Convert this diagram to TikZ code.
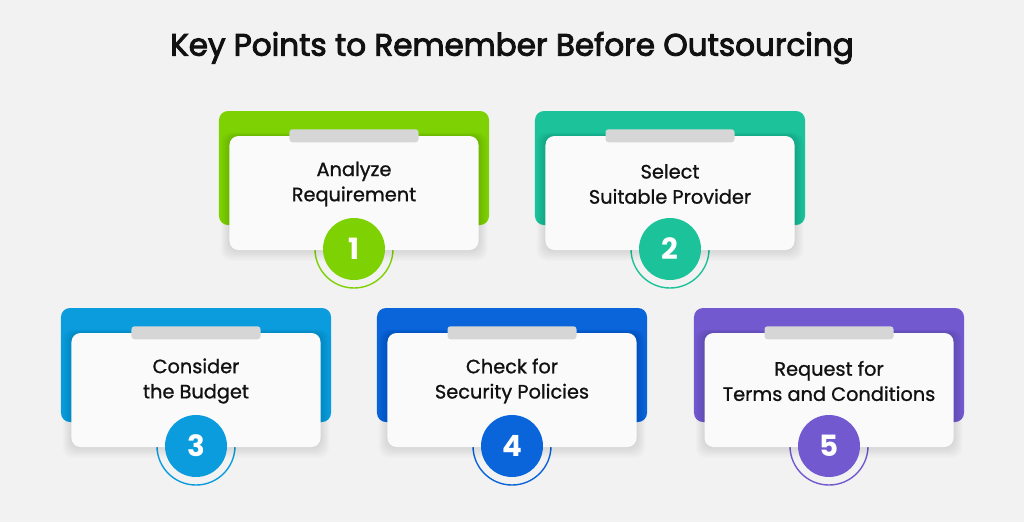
\documentclass[tikz,border=0pt]{standalone}
\usepackage{fontspec}
\setmainfont{Poppins}
\newfontfamily\titlefont[FakeBold=3]{Poppins}
\newfontfamily\cardfont[FakeBold=1]{Poppins}
\definecolor{bgcol}{HTML}{F2F2F2}
\definecolor{cardcol}{HTML}{FAFAFA}
\definecolor{tabcol}{HTML}{D6D6D6}
\definecolor{inkcol}{HTML}{111111}
\definecolor{greencol}{HTML}{7ED203}
\definecolor{tealcol}{HTML}{1CC29A}
\definecolor{bluecol}{HTML}{0B9CDE}
\definecolor{navycol}{HTML}{0A64DA}
\definecolor{purplecol}{HTML}{7359CF}

\tikzset{
  backbox/.style={rectangle, rounded corners=0.27cm, minimum width=8.1cm, minimum height=3.42cm, inner sep=0pt},
  whitebox/.style={rectangle, rounded corners=0.27cm, minimum width=7.47cm, minimum height=3.42cm, inner sep=0pt, fill=cardcol},
  shadowlayer/.style={fill=black, opacity=0.011, rounded corners=0.3cm},
  tabbox/.style={rectangle, rounded corners=0.09cm, minimum width=3.87cm, minimum height=0.39cm, inner sep=0pt, fill=tabcol},
  cardtext/.style={align=center, text=inkcol, font=\cardfont\fontsize{16.5}{21.5}\selectfont},
  numcircle/.style={circle, minimum size=1.86cm, inner sep=0pt, text=white, font=\fontsize{25}{25}\selectfont\bfseries},
  ring/.style={line width=1.2pt}
}

% #1 name, #2 x centre, #3 top y, #4 colour, #5 text, #6 number
\newcommand{\keycard}[6]{%
  \node[backbox, fill=#4] (#1back) at (#2,#3+57) {};
  \draw[ring, draw=#4] (#2,#3+138) circle (1.17cm);
  % soft shadow under the white card
  \foreach \s in {1,...,9}
    \fill[shadowlayer] (#2-124.5-\s,#3+25-0.4*\s) rectangle (#2+124.5+\s,#3+139+1.2*\s);
  \node[whitebox] (#1card) at (#2,#3+82) {};
  \node[tabbox] (#1tab) at (#1card.north) {};
  \node[cardtext] (#1text) at (#2,#3+73) {#5};
  \node[numcircle, fill=#4] (#1num) at (#2,#3+138) {#6};
}

\begin{document}
\begin{tikzpicture}[x=0.03cm, y=-0.03cm]
  \fill[bgcol] (0,0) rectangle (1024,522);
  \useasboundingbox (0,0) rectangle (1024,522);

  \node[text=inkcol, font=\titlefont\fontsize{26.5}{26.5}\selectfont] (title) at (512,48) {Key Points to Remember Before Outsourcing};

  % top row
  \keycard{analyze}{354}{111}{greencol}{Analyze\\Requirement}{1}
  \keycard{select}{670}{111}{tealcol}{Select\\Suitable Provider}{2}

  % bottom row
  \keycard{budget}{196}{308}{bluecol}{Consider\\the Budget}{3}
  \keycard{security}{512}{308}{navycol}{Check for\\Security Policies}{4}
  \keycard{terms}{829}{308}{purplecol}{Request for\\Terms and Conditions}{5}
\end{tikzpicture}
\end{document}
